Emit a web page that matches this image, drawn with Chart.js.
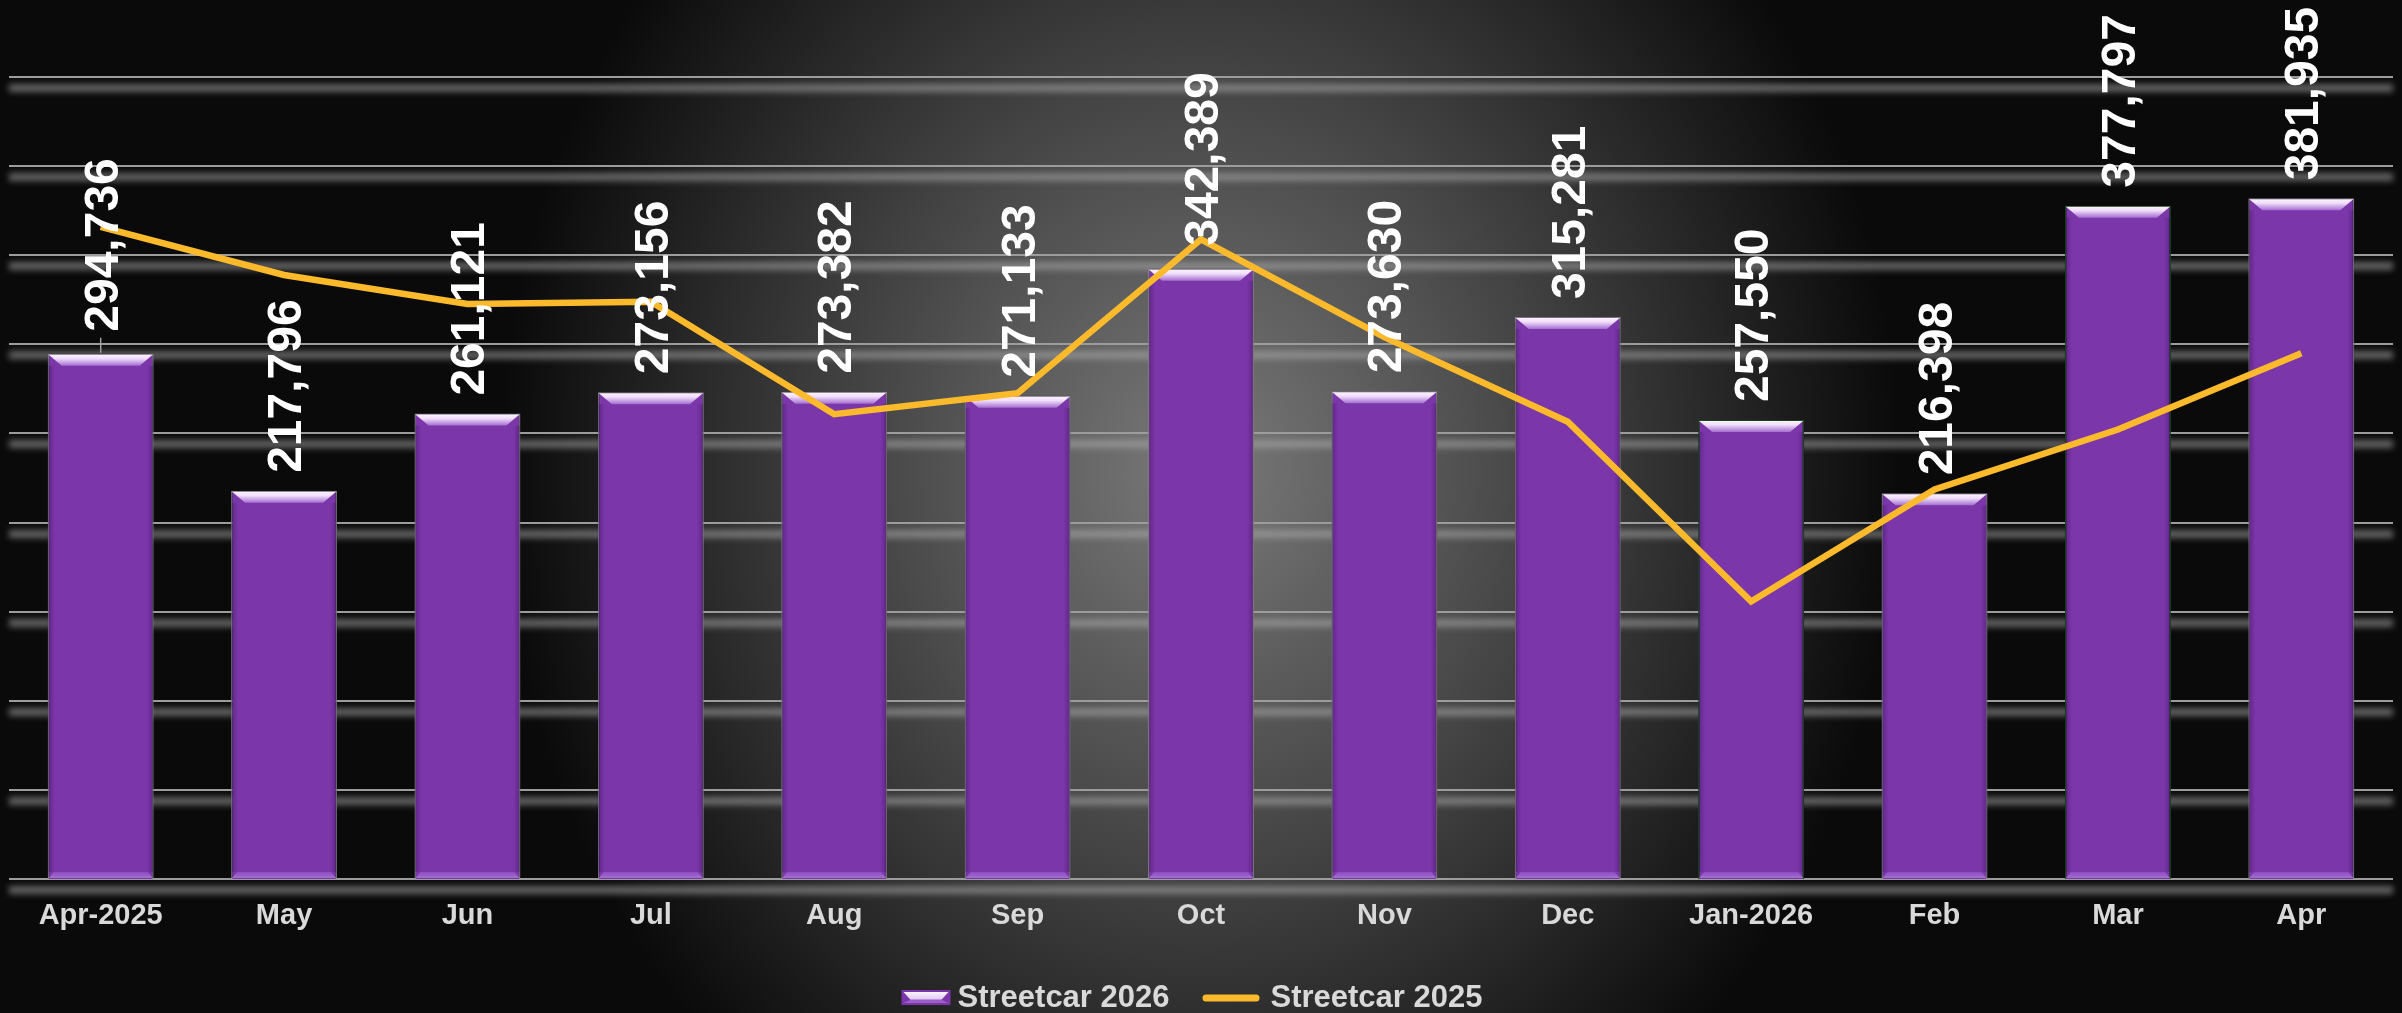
<!DOCTYPE html>
<html><head><meta charset="utf-8">
<script src="https://cdn.jsdelivr.net/npm/chart.js@4.4.1/dist/chart.umd.min.js"></script>
<style>html,body{margin:0;padding:0;background:#0a0a0a;overflow:hidden}canvas{display:block}</style>
</head><body>
<canvas id="c" width="2402" height="1013"></canvas>
<script>
const categories = ['Apr-2025','May','Jun','Jul','Aug','Sep','Oct','Nov','Dec','Jan-2026','Feb','Mar','Apr'];
const streetcar2026 = [294736,217796,261121,273156,273382,271133,342389,273630,315281,257550,216398,377797,381935];
const streetcar2025 = [365900,338900,322600,323900,260800,272600,358900,304000,256600,155700,218600,252200,295000];
const seriesNames = ['Streetcar 2026','Streetcar 2025'];
const yMin = 0, yMax = 450000, yStep = 50000;

const FONT = '"Liberation Sans", Arial, sans-serif';
const BAR_COLOR = '#7b36a9';
const LINE_COLOR = '#fbb92c';

const bgPlugin = {
  id: 'bg',
  beforeDraw(chart) {
    const {ctx, width, height} = chart;
    ctx.save();
    ctx.fillStyle = '#0a0a0a';
    ctx.fillRect(0, 0, width, height);
    ctx.translate(1200, 470);
    ctx.scale(1, 800 / 700);
    const g = ctx.createRadialGradient(0, 0, 0, 0, 0, 700);
    g.addColorStop(0, '#7a7a7a');
    g.addColorStop(0.5, '#434343');
    g.addColorStop(1, '#0a0a0a');
    ctx.fillStyle = g;
    ctx.fillRect(-2500, -2500, 5000, 5000);
    ctx.restore();
  }
};

const gridPlugin = {
  id: 'gridGlow',
  beforeDatasetsDraw(chart) {
    const {ctx, chartArea} = chart;
    const ys = chart.scales.y;
    ctx.save();
    ys.ticks.forEach(t => {
      const py = Math.round(ys.getPixelForValue(t.value));
      ctx.save();
      ctx.filter = 'blur(3px)';
      ctx.strokeStyle = 'rgba(175,175,175,0.55)';
      ctx.lineWidth = 8;
      ctx.beginPath(); ctx.moveTo(chartArea.left, py + 11); ctx.lineTo(chartArea.right, py + 11); ctx.stroke();
      ctx.restore();
      ctx.strokeStyle = '#9c9c9c';
      ctx.lineWidth = 2;
      ctx.beginPath(); ctx.moveTo(chartArea.left, py); ctx.lineTo(chartArea.right, py); ctx.stroke();
    });
    ctx.restore();
  }
};

function drawBevel(ctx, L, R, T, B) {
  const ins = 14, th = 12;
  let gl = ctx.createLinearGradient(L, 0, L + 7, 0);
  gl.addColorStop(0, 'rgba(40,5,70,0.35)');
  gl.addColorStop(1, 'rgba(40,5,70,0)');
  ctx.fillStyle = gl;
  ctx.fillRect(L + 1, T + th, 7, B - T - th - 7);
  let gr = ctx.createLinearGradient(R - 7, 0, R, 0);
  gr.addColorStop(0, 'rgba(40,5,70,0)');
  gr.addColorStop(1, 'rgba(40,5,70,0.35)');
  ctx.fillStyle = gr;
  ctx.fillRect(R - 8, T + th, 7, B - T - th - 7);
  const g = ctx.createLinearGradient(0, T, 0, T + th);
  g.addColorStop(0, '#fdf6ff');
  g.addColorStop(0.4, '#f1defb');
  g.addColorStop(1, '#a36dd0');
  ctx.fillStyle = g;
  ctx.beginPath();
  ctx.moveTo(L + 1, T + 1); ctx.lineTo(R - 1, T + 1);
  ctx.lineTo(R - ins, T + th); ctx.lineTo(L + ins, T + th);
  ctx.closePath(); ctx.fill();
  const gb = ctx.createLinearGradient(0, B - 7, 0, B);
  gb.addColorStop(0, '#8b4dbd');
  gb.addColorStop(1, '#a775d3');
  ctx.fillStyle = gb;
  ctx.beginPath();
  ctx.moveTo(L + 6, B - 7); ctx.lineTo(R - 6, B - 7);
  ctx.lineTo(R - 1, B - 1); ctx.lineTo(L + 1, B - 1);
  ctx.closePath(); ctx.fill();
}

const bevelPlugin = {
  id: 'bevel',
  beforeDatasetDraw(chart, args) {
    if (args.index !== 0) return;
    const ctx = chart.ctx;
    ctx.save();
    ctx.shadowColor = 'rgba(0,0,0,0.55)';
    ctx.shadowBlur = 8;
  },
  afterDatasetDraw(chart, args) {
    if (args.index !== 0) return;
    const ctx = chart.ctx;
    ctx.restore();
    ctx.save();
    args.meta.data.forEach(bar => {
      const p = bar.getProps(['x', 'y', 'base', 'width'], true);
      drawBevel(ctx, p.x - p.width / 2, p.x + p.width / 2, p.y, p.base);
    });
    ctx.restore();
  }
};

const labelPlugin = {
  id: 'barLabels',
  afterDatasetsDraw(chart) {
    const ctx = chart.ctx;
    const meta = chart.getDatasetMeta(0);
    ctx.save();
    ctx.font = 'bold 48px ' + FONT;
    ctx.fillStyle = '#ffffff';
    ctx.textAlign = 'left';
    ctx.textBaseline = 'alphabetic';
    meta.data.forEach((bar, i) => {
      const p = bar.getProps(['x', 'y'], true);
      const gap = i === 0 ? 22 : (i === 6 ? 23 : 18);
      if (i === 0) {
        ctx.save();
        ctx.strokeStyle = '#a0a0a0';
        ctx.lineWidth = 1.5;
        ctx.beginPath(); ctx.moveTo(p.x, p.y - 1); ctx.lineTo(p.x, p.y - gap + 6); ctx.stroke();
        ctx.restore();
      }
      const txt = streetcar2026[i].toLocaleString('en-US');
      ctx.save();
      ctx.translate(p.x, p.y - gap);
      ctx.rotate(-Math.PI / 2);
      ctx.fillText(txt, 0, 17);
      ctx.restore();
    });
    ctx.restore();
  }
};

function drawBarIcon(ctx, x, y, w, h) {
  ctx.fillStyle = BAR_COLOR;
  ctx.fillRect(x, y, w, h);
  const g = ctx.createLinearGradient(0, y, 0, y + h * 0.65);
  g.addColorStop(0, '#ffffff');
  g.addColorStop(1, '#e2c8f4');
  ctx.fillStyle = g;
  ctx.beginPath();
  ctx.moveTo(x + 2, y + 2); ctx.lineTo(x + w - 2, y + 2);
  ctx.lineTo(x + w - 9, y + h * 0.65); ctx.lineTo(x + 9, y + h * 0.65);
  ctx.closePath(); ctx.fill();
  ctx.fillStyle = '#9a60c8';
  ctx.beginPath();
  ctx.moveTo(x + 9, y + h * 0.65); ctx.lineTo(x + w - 9, y + h * 0.65);
  ctx.lineTo(x + w - 2, y + h - 2); ctx.lineTo(x + 2, y + h - 2);
  ctx.closePath(); ctx.fill();
}

const legendPlugin = {
  id: 'customLegend',
  afterDraw(chart) {
    const ctx = chart.ctx;
    ctx.save();
    ctx.font = 'bold 31px ' + FONT;
    const w1 = ctx.measureText(seriesNames[0]).width;
    const w2 = ctx.measureText(seriesNames[1]).width;
    const total = 49 + 7 + w1 + 33 + 57 + 11 + w2;
    let x = 1192 - total / 2;
    drawBarIcon(ctx, x, 990, 49, 15);
    x += 49 + 7;
    ctx.fillStyle = '#d9d9d9';
    ctx.textAlign = 'left';
    ctx.textBaseline = 'alphabetic';
    ctx.fillText(seriesNames[0], x, 1007);
    x += w1 + 33;
    ctx.strokeStyle = LINE_COLOR;
    ctx.lineWidth = 7;
    ctx.lineCap = 'round';
    ctx.beginPath(); ctx.moveTo(x + 3.5, 998); ctx.lineTo(x + 57 - 3.5, 998); ctx.stroke();
    x += 57 + 11;
    ctx.fillText(seriesNames[1], x, 1007);
    ctx.restore();
  }
};

const borderColors = categories.map((c, i) => (i === 9 || i === 11) ? '#1f5a1f' : 'rgba(165,155,175,0.85)');

new Chart(document.getElementById('c'), {
  type: 'bar',
  data: {
    labels: categories,
    datasets: [
      {
        type: 'bar',
        label: seriesNames[0],
        data: streetcar2026,
        backgroundColor: BAR_COLOR,
        borderColor: borderColors,
        borderWidth: 1.5,
        categoryPercentage: 1.0,
        barPercentage: 0.578,
        order: 1
      },
      {
        type: 'line',
        label: seriesNames[1],
        data: streetcar2025,
        borderColor: LINE_COLOR,
        borderWidth: 6.5,
        pointRadius: 0,
        pointHoverRadius: 0,
        tension: 0,
        fill: false,
        order: 0
      }
    ]
  },
  options: {
    responsive: false,
    animation: false,
    devicePixelRatio: 1,
    layout: { padding: { left: 9, right: 9, top: 77, bottom: 0 } },
    plugins: { legend: { display: false }, tooltip: { enabled: false } },
    scales: {
      x: {
        grid: { display: false, drawTicks: false },
        border: { display: false },
        ticks: {
          color: '#d9d9d9',
          font: { family: FONT, size: 29, weight: 'bold' },
          padding: 20,
          maxRotation: 0,
          autoSkip: false
        },
        afterFit(s) { s.height = 134; }
      },
      y: {
        display: false,
        min: yMin,
        max: yMax,
        ticks: { stepSize: yStep }
      }
    }
  },
  plugins: [bgPlugin, gridPlugin, bevelPlugin, labelPlugin, legendPlugin]
});
</script>
</body></html>
